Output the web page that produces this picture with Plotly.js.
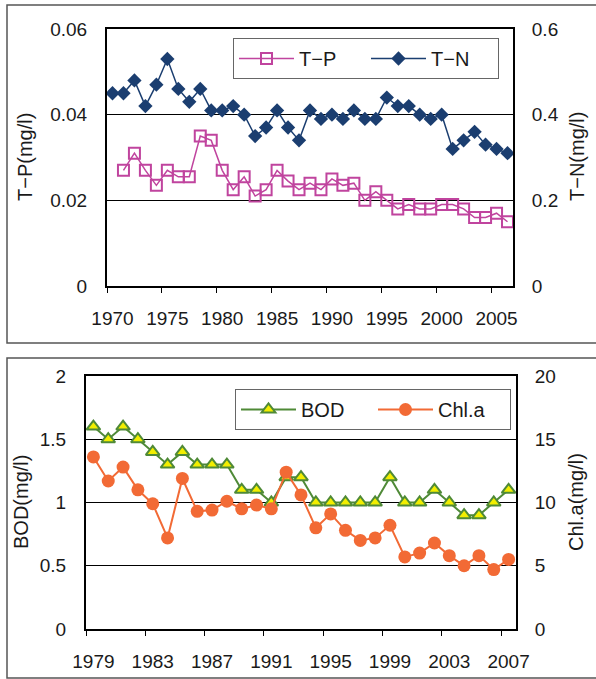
<!DOCTYPE html>
<html>
<head>
<meta charset="utf-8">
<script src="https://cdn.plot.ly/plotly-3.0.1.min.js"></script>
<style>
  html, body { margin: 0; padding: 0; background: #fff; }
  #chart { width: 596px; height: 679px; }
</style>
</head>
<body>
<div id="chart"></div>
<script>
// Upper panel: total phosphorus / total nitrogen, 1970-2006
const yearsTN = [1970,1971,1972,1973,1974,1975,1976,1977,1978,1979,1980,1981,1982,1983,1984,1985,1986,1987,1988,1989,1990,1991,1992,1993,1994,1995,1996,1997,1998,1999,2000,2001,2002,2003,2004,2005,2006];
const valuesTN = [0.45,0.45,0.48,0.42,0.47,0.53,0.46,0.43,0.46,0.41,0.41,0.42,0.40,0.35,0.37,0.41,0.37,0.34,0.41,0.39,0.40,0.39,0.41,0.39,0.39,0.44,0.42,0.42,0.40,0.39,0.40,0.32,0.34,0.36,0.33,0.32,0.31];
const yearsTP = [1971,1972,1973,1974,1975,1976,1977,1978,1979,1980,1981,1982,1983,1984,1985,1986,1987,1988,1989,1990,1991,1992,1993,1994,1995,1996,1997,1998,1999,2000,2001,2002,2003,2004,2005,2006];
const valuesTP = [0.027,0.031,0.027,0.0235,0.027,0.0255,0.0255,0.035,0.034,0.027,0.0225,0.0255,0.021,0.0225,0.027,0.0245,0.0225,0.024,0.0225,0.025,0.0235,0.024,0.020,0.022,0.020,0.018,0.019,0.018,0.018,0.019,0.019,0.018,0.016,0.016,0.017,0.015];
const topTickYears = [1970,1975,1980,1985,1990,1995,2000,2005];

// Lower panel: BOD / chlorophyll-a, 1979-2007
const yearsLow = [1979,1980,1981,1982,1983,1984,1985,1986,1987,1988,1989,1990,1991,1992,1993,1994,1995,1996,1997,1998,1999,2000,2001,2002,2003,2004,2005,2006,2007];
const valuesBOD = [1.6,1.5,1.6,1.5,1.4,1.3,1.4,1.3,1.3,1.3,1.1,1.1,1.0,1.2,1.2,1.0,1.0,1.0,1.0,1.0,1.2,1.0,1.0,1.1,1.0,0.9,0.9,1.0,1.1];
const valuesChla = [13.6,11.7,12.8,11.0,9.9,7.2,11.9,9.3,9.4,10.1,9.5,9.8,9.5,12.4,10.6,8.0,9.1,7.8,7.0,7.2,8.2,5.7,6.0,6.8,5.8,5.0,5.8,4.7,5.5];
const lowTickYears = [1979,1983,1987,1991,1995,1999,2003,2007];

const W = 596, H = 679;
const px = v => v / W;
const py = v => 1 - v / H;
const FONT = 'Liberation Sans, Arial, sans-serif';
const TEXT = '#1a1a1a';

const traces = [
  {
    x: yearsTP, y: valuesTP, name: 'T−P', type: 'scatter', mode: 'lines+markers',
    xaxis: 'x', yaxis: 'y', legend: 'legend',
    line: { color: '#C0449E', width: 1.5 },
    marker: { symbol: 'square-open', size: 11, color: '#C0449E', line: { width: 2, color: '#C0449E' } }
  },
  {
    x: yearsTN, y: valuesTN, name: 'T−N', type: 'scatter', mode: 'lines+markers',
    xaxis: 'x', yaxis: 'y2', legend: 'legend',
    line: { color: '#1B3E70', width: 1.5 },
    marker: { symbol: 'diamond', size: 11, color: '#1B3E70' }
  },
  {
    x: yearsLow, y: valuesBOD, name: 'BOD', type: 'scatter', mode: 'lines+markers',
    xaxis: 'x2', yaxis: 'y3', legend: 'legend2',
    line: { color: '#4F8A37', width: 2 },
    marker: { symbol: 'triangle-up', size: 12, color: '#F2EE00', line: { width: 2, color: '#4F8A37' } }
  },
  {
    x: yearsLow, y: valuesChla, name: 'Chl.a', type: 'scatter', mode: 'lines+markers',
    xaxis: 'x2', yaxis: 'y4', legend: 'legend2',
    line: { color: '#F26A35', width: 2 },
    marker: { symbol: 'circle', size: 13, color: '#F26A35' }
  }
];

const tickFont = { family: FONT, size: 19, color: TEXT };
const titleFont = { family: FONT, size: 20, color: TEXT };
const hiddenTick = { ticks: 'outside', tickcolor: 'rgba(0,0,0,0)' };

const legendBase = {
  orientation: 'h', xanchor: 'left', yanchor: 'top',
  bgcolor: '#fff', bordercolor: '#666', borderwidth: 1,
  font: { family: FONT, size: 20, color: TEXT },
  itemwidth: 55, entrywidthmode: 'pixels', traceorder: 'normal'
};

const layout = {
  width: W, height: H,
  margin: { l: 0, r: 0, t: 0, b: 0 },
  paper_bgcolor: '#fff', plot_bgcolor: '#fff',
  font: { family: FONT, color: TEXT },
  showlegend: true,
  xaxis: {
    domain: [px(107), px(513)], anchor: 'y',
    range: [1969.5, 2006.5], tickvals: topTickYears, tickfont: tickFont,
    ...hiddenTick, ticklen: 14,
    minor: { tick0: 1974.5, dtick: 5, ticks: 'outside', ticklen: 5, tickcolor: '#000', tickwidth: 1, showgrid: false },
    showline: true, linecolor: '#000', linewidth: 2, mirror: true,
    showgrid: false, zeroline: false
  },
  yaxis: {
    domain: [py(286), py(29)], anchor: 'x',
    range: [0, 0.06], dtick: 0.02, tickfont: tickFont,
    ...hiddenTick, ticklen: 14,
    showline: true, linecolor: '#000', linewidth: 2, mirror: true,
    showgrid: true, gridcolor: '#000', gridwidth: 1, zeroline: false
  },
  yaxis2: {
    overlaying: 'y', side: 'right', anchor: 'x',
    range: [0, 0.6], dtick: 0.2, tickfont: tickFont,
    ...hiddenTick, ticklen: 14,
    showgrid: false, zeroline: false, showline: false
  },
  xaxis2: {
    domain: [px(86), px(516)], anchor: 'y3',
    range: [1978.5, 2007.5], tickvals: lowTickYears, tickfont: tickFont,
    ...hiddenTick, ticklen: 14,
    minor: { tick0: 1982.5, dtick: 4, ticks: 'outside', ticklen: 5, tickcolor: '#000', tickwidth: 1, showgrid: false },
    showline: true, linecolor: '#000', linewidth: 2, mirror: true,
    showgrid: false, zeroline: false
  },
  yaxis3: {
    domain: [py(629), py(376)], anchor: 'x2',
    range: [0, 2], dtick: 0.5, tickfont: tickFont,
    ...hiddenTick, ticklen: 14,
    showline: true, linecolor: '#000', linewidth: 2, mirror: true,
    showgrid: true, gridcolor: '#000', gridwidth: 1, zeroline: false
  },
  yaxis4: {
    overlaying: 'y3', side: 'right', anchor: 'x2',
    range: [0, 20], dtick: 5, tickfont: tickFont,
    ...hiddenTick, ticklen: 14,
    showgrid: false, zeroline: false, showline: false
  },
  legend: { ...legendBase, x: px(233), y: py(38), entrywidth: 62 },
  legend2: { ...legendBase, x: px(235), y: py(389), entrywidth: 67 },
  shapes: [
    // panel frames
    { type: 'rect', xref: 'paper', yref: 'paper', x0: px(7), x1: 1.05, y0: py(343), y1: py(5),
      line: { color: '#555', width: 1.5 }, layer: 'below' },
    { type: 'rect', xref: 'paper', yref: 'paper', x0: px(7), x1: 1.05, y0: py(678), y1: py(358),
      line: { color: '#555', width: 1.5 }, layer: 'below' }
  ],
  annotations: [
    { text: 'T−P(mg/l)', xref: 'paper', yref: 'paper', x: px(25), y: py(157), textangle: -90,
      showarrow: false, font: titleFont, xanchor: 'center', yanchor: 'middle' },
    { text: 'T−N(mg/l)', xref: 'paper', yref: 'paper', x: px(577), y: py(157), textangle: -90,
      showarrow: false, font: titleFont, xanchor: 'center', yanchor: 'middle' },
    { text: 'BOD(mg/l)', xref: 'paper', yref: 'paper', x: px(21), y: py(502), textangle: -90,
      showarrow: false, font: titleFont, xanchor: 'center', yanchor: 'middle' },
    { text: 'Chl.a(mg/l)', xref: 'paper', yref: 'paper', x: px(576), y: py(502), textangle: -90,
      showarrow: false, font: titleFont, xanchor: 'center', yanchor: 'middle' }
  ]
};

Plotly.newPlot('chart', traces, layout, { staticPlot: true, displayModeBar: false });
</script>
</body>
</html>
